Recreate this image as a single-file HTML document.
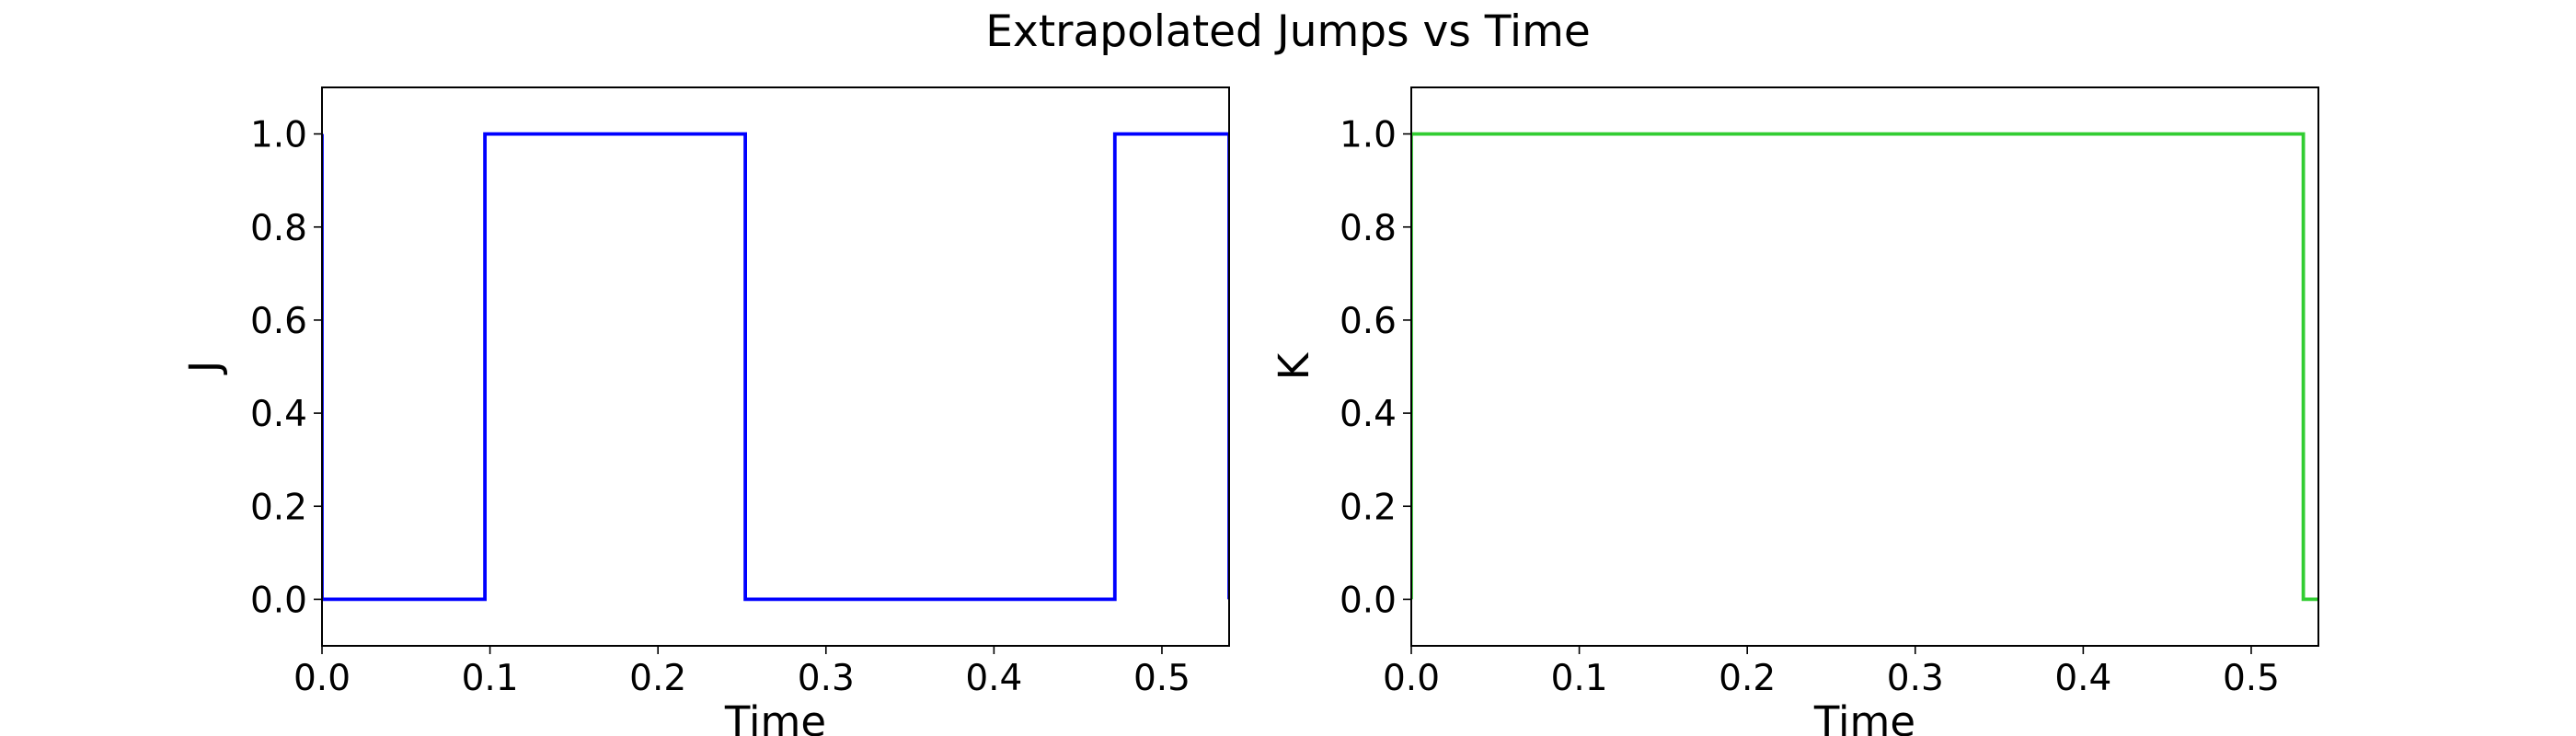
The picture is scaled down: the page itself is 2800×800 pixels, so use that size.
<!DOCTYPE html>
<html><head><meta charset="utf-8"><style>
html,body{margin:0;padding:0;background:#fff;}
svg{display:block;font-family:"DejaVu Sans","Liberation Sans",sans-serif;}
</style></head><body>
<svg id="fig" width="2800" height="800" viewBox="0 0 2800 800" xmlns="http://www.w3.org/2000/svg">
<rect width="2800" height="800" fill="#fff"/>
<text x="1400" y="50" font-size="47" text-anchor="middle">Extrapolated Jumps vs Time</text>
</svg>
<script>
const jTimes = [0, 0, 0.097, 0.097, 0.252, 0.252, 0.472, 0.472, 0.54, 0.54];
const jValues = [1, 0, 0, 1, 1, 0, 0, 1, 1, 0];
const kTimes = [0, 0, 0.531, 0.531, 0.54];
const kValues = [0, 1, 1, 0, 0];
const xTicks = [0, 0.1, 0.2, 0.3, 0.4, 0.5];
const xTickLabels = ["0.0", "0.1", "0.2", "0.3", "0.4", "0.5"];
const yTicks = [0, 0.2, 0.4, 0.6, 0.8, 1.0];
const yTickLabels = ["0.0", "0.2", "0.4", "0.6", "0.8", "1.0"];

(function () {
const svg = document.getElementById('fig');
const NS = 'http://www.w3.org/2000/svg';
function mk(tag, attrs) {
  const e = document.createElementNS(NS, tag);
  for (const k in attrs) e.setAttribute(k, attrs[k]);
  svg.appendChild(e);
  return e;
}
const axTop = 95, axBottom = 702, xmin = 0, xmax = 0.54, ymin = -0.1, ymax = 1.1;

function panel(left, right, times, values, color, ylabel, prefix) {
  const sx = v => left + (v - xmin) / (xmax - xmin) * (right - left);
  const sy = v => axBottom - (v - ymin) / (ymax - ymin) * (axBottom - axTop);
  const d = times.map((t, i) => (i ? 'L' : 'M') + sx(t).toFixed(1) + ' ' + sy(values[i]).toFixed(1)).join(' ');
  const clipId = prefix + '-clip';
  const cp = mk('clipPath', {id: clipId});
  const cr = document.createElementNS(NS, 'rect');
  cr.setAttribute('x', left); cr.setAttribute('y', axTop);
  cr.setAttribute('width', right - left); cr.setAttribute('height', axBottom - axTop);
  cp.appendChild(cr);
  const line = mk('path', {d: d, fill: 'none', stroke: color, 'stroke-width': 3.8, 'clip-path': 'url(#' + clipId + ')'});
  
  
  const frame = mk('rect', {x: left, y: axTop, width: right - left, height: axBottom - axTop, fill: 'none', stroke: '#000', 'stroke-width': 2});
  
  
  xTicks.forEach((t, i) => {
    const x = sx(t);
    const tk = mk('line', {x1: x, x2: x, y1: axBottom, y2: axBottom + 9, stroke: '#000', 'stroke-width': 1.6});
    
    
    const lb = mk('text', {x: x, y: axBottom + 48, 'font-size': 39, 'text-anchor': 'middle'});
    
    
    lb.textContent = xTickLabels[i];
  });
  yTicks.forEach((t, i) => {
    const y = sy(t);
    const tk = mk('line', {x1: left - 9, x2: left, y1: y, y2: y, stroke: '#000', 'stroke-width': 1.6});
    
    
    const lb = mk('text', {x: left - 16, y: y + 14, 'font-size': 39, 'text-anchor': 'end'});
    
    
    lb.textContent = yTickLabels[i];
  });
  const xl = mk('text', {x: (left + right) / 2, y: 800, 'font-size': 45, 'text-anchor': 'middle'});
  
  
  xl.textContent = 'Time';
  const yx = left - 112, yy = (axTop + axBottom) / 2;
  const yl = mk('text', {x: yx, y: yy, 'font-size': 45, 'text-anchor': 'middle', transform: 'rotate(-90 ' + yx + ' ' + yy + ')'});
  
  
  yl.textContent = ylabel;
}
panel(350, 1336, jTimes, jValues, '#0000ff', 'J', 'j-panel');
panel(1534, 2520, kTimes, kValues, '#32cd32', 'K', 'k-panel');
})();
</script>
</body></html>
